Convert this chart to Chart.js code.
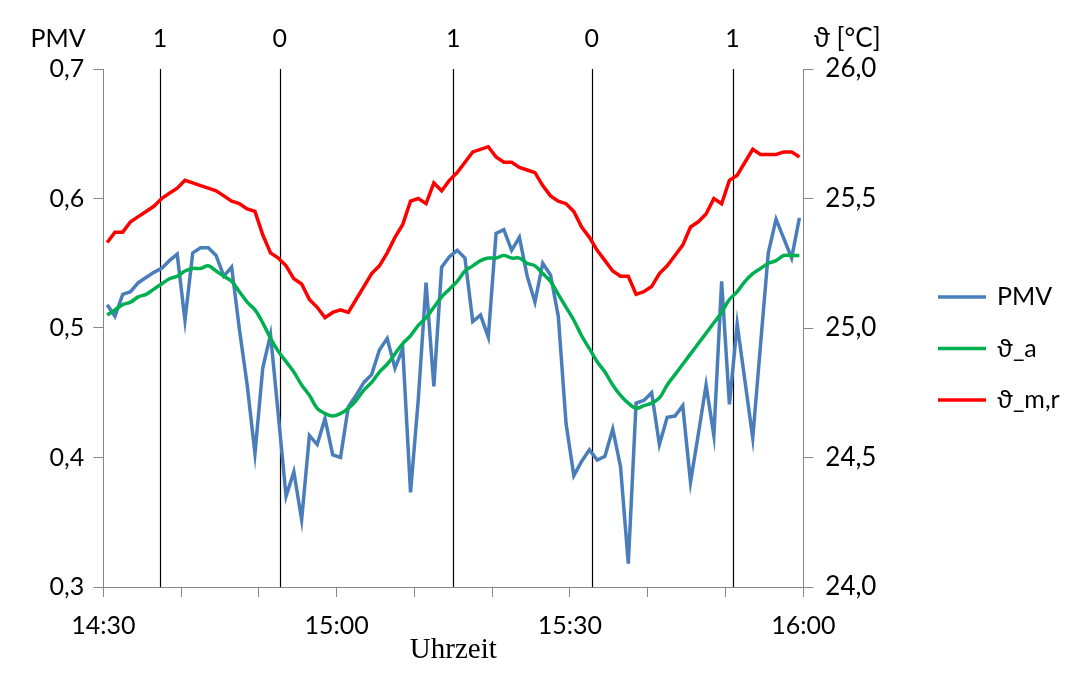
<!DOCTYPE html>
<html>
<head>
<meta charset="utf-8">
<title>PMV und Temperaturen</title>
<script src="https://cdn.jsdelivr.net/npm/chart.js@4"></script>
<style>
    html, body { margin: 0; padding: 0; background: #ffffff; }
    #wrap { width: 1072px; height: 685px; }
</style>
</head>
<body>
<div id="wrap"><canvas id="pmvChart" width="1072" height="685"></canvas></div>
<script>
// one sample per minute, 14:30 - 16:00
const pmv = [
    0.518, 0.509, 0.526, 0.528, 0.535, 0.539, 0.543, 0.546, 0.552, 0.557,
    0.506, 0.558, 0.562, 0.562, 0.556, 0.540, 0.547, 0.499, 0.456, 0.403,
    0.469, 0.495, 0.433, 0.370, 0.389, 0.352, 0.417, 0.410, 0.430, 0.402,
    0.400, 0.439, 0.448, 0.458, 0.464, 0.483, 0.492, 0.469, 0.484, 0.373,
    0.445, 0.535, 0.455, 0.547, 0.555, 0.560, 0.554, 0.505, 0.510, 0.493,
    0.573, 0.576, 0.560, 0.570, 0.540, 0.520, 0.550, 0.541, 0.509, 0.426,
    0.386, 0.397, 0.406, 0.398, 0.401, 0.422, 0.393, 0.318, 0.442, 0.444,
    0.450, 0.410, 0.431, 0.432, 0.440, 0.381, 0.418, 0.456, 0.417, 0.536,
    0.441, 0.503, 0.459, 0.415, 0.487, 0.558, 0.584, 0.569, 0.554, 0.585
];

const tempAir = [
    25.05, 25.07, 25.09, 25.10, 25.12, 25.13, 25.15, 25.17, 25.19, 25.20,
    25.22, 25.23, 25.23, 25.24, 25.22, 25.20, 25.18, 25.14, 25.10, 25.07,
    25.02, 24.96, 24.91, 24.87, 24.83, 24.78, 24.74, 24.69, 24.67, 24.66,
    24.67, 24.69, 24.72, 24.76, 24.79, 24.83, 24.86, 24.90, 24.94, 24.97,
    25.01, 25.04, 25.08, 25.12, 25.15, 25.18, 25.22, 25.24, 25.26, 25.27,
    25.27, 25.28, 25.27, 25.27, 25.25, 25.24, 25.21, 25.18, 25.13, 25.08,
    25.03, 24.97, 24.92, 24.87, 24.83, 24.78, 24.74, 24.71, 24.69, 24.70,
    24.71, 24.73, 24.78, 24.82, 24.86, 24.90, 24.94, 24.98, 25.02, 25.06,
    25.11, 25.14, 25.18, 25.21, 25.23, 25.25, 25.26, 25.28, 25.28, 25.28
];

const tempRad = [
    25.33, 25.37, 25.37, 25.41, 25.43, 25.45, 25.47, 25.50, 25.52, 25.54,
    25.57, 25.56, 25.55, 25.54, 25.53, 25.51, 25.49, 25.48, 25.46, 25.45,
    25.36, 25.29, 25.27, 25.24, 25.19, 25.17, 25.11, 25.08, 25.04, 25.06,
    25.07, 25.06, 25.11, 25.16, 25.21, 25.24, 25.29, 25.35, 25.40, 25.49,
    25.50, 25.48, 25.56, 25.53, 25.57, 25.60, 25.64, 25.68, 25.69, 25.70,
    25.66, 25.64, 25.64, 25.62, 25.61, 25.60, 25.55, 25.51, 25.49, 25.48,
    25.45, 25.39, 25.35, 25.30, 25.26, 25.22, 25.20, 25.20, 25.13, 25.14,
    25.16, 25.21, 25.24, 25.28, 25.32, 25.39, 25.41, 25.44, 25.50, 25.48,
    25.57, 25.59, 25.64, 25.69, 25.67, 25.67, 25.67, 25.68, 25.68, 25.66
];

// switching events (minutes after 14:30) and state
const switchMinutes = [7.3, 22.7, 45.0, 62.8, 80.9];
const switchStates = ['1', '0', '1', '0', '1'];

const timeTicks = [0, 30, 60, 90];
const timeLabels = ['14:30', '15:00', '15:30', '16:00'];

const seriesNames = ['PMV', 'ϑ_a', 'ϑ_m,r'];
const seriesColors = ['#4a7ebb', '#00b050', '#ff0000'];

const FONT = "Lato, 'DejaVu Sans', sans-serif";
const AXIS_GREY = '#868686';

// samples sit in the middle of each minute
const toPoints = (values) => values.map((v, i) => ({ x: i + 0.5, y: v }));
const comma = (v, digits) => v.toFixed(digits).replace('.', ',');

const overlay = {
    id: 'overlay',
    beforeDatasetsDraw(chart) {
        const { ctx, chartArea, scales } = chart;
        ctx.save();
        ctx.strokeStyle = '#000000';
        ctx.lineWidth = 1.2;
        switchMinutes.forEach((m) => {
            const x = Math.round(scales.x.getPixelForValue(m)) + 0.5;
            ctx.beginPath();
            ctx.moveTo(x, chartArea.top);
            ctx.lineTo(x, chartArea.bottom);
            ctx.stroke();
        });
        ctx.restore();
    },
    afterDraw(chart) {
        const { ctx, scales } = chart;
        ctx.save();
        ctx.fillStyle = '#000000';
        ctx.font = '25px ' + FONT;
        ctx.textBaseline = 'middle';
        ctx.textAlign = 'center';
        switchMinutes.forEach((m, i) => {
            ctx.fillText(switchStates[i], scales.x.getPixelForValue(m), 39);
        });
        ctx.fillText('PMV', 58, 39);
        ctx.font = '26px ' + FONT;
        ctx.fillText('ϑ [°C]', 847, 39);

        // legend
        ctx.font = '25px ' + FONT;
        ctx.textAlign = 'left';
        chart.data.datasets.forEach((ds, i) => {
            const y = 297 + i * 51.5;
            ctx.strokeStyle = ds.borderColor;
            ctx.lineWidth = ds.borderWidth;
            ctx.beginPath();
            ctx.moveTo(938, y);
            ctx.lineTo(986, y);
            ctx.stroke();
            ctx.fillText(ds.label, 997, y);
        });
        ctx.restore();
    }
};

new Chart(document.getElementById('pmvChart'), {
    type: 'line',
    data: {
        datasets: [{
            label: seriesNames[0],
            data: toPoints(pmv),
            yAxisID: 'y',
            borderColor: seriesColors[0],
            borderWidth: 3.5,
            pointRadius: 0,
            tension: 0,
            order: 3
        }, {
            label: seriesNames[1],
            data: toPoints(tempAir),
            yAxisID: 'y1',
            borderColor: seriesColors[1],
            borderWidth: 3.5,
            pointRadius: 0,
            tension: 0.35,
            order: 2
        }, {
            label: seriesNames[2],
            data: toPoints(tempRad),
            yAxisID: 'y1',
            borderColor: seriesColors[2],
            borderWidth: 3.5,
            pointRadius: 0,
            tension: 0,
            order: 1
        }]
    },
    options: {
        responsive: false,
        animation: false,
        devicePixelRatio: 1,
        layout: {
            padding: { top: 69, right: 178.7, bottom: 0, left: 0 }
        },
        plugins: {
            legend: { display: false },
            tooltip: { enabled: false }
        },
        scales: {
            x: {
                type: 'linear',
                min: 0,
                max: 90,
                afterFit: (scale) => { scale.height = 98; },
                afterBuildTicks: (scale) => {
                    scale.ticks = [0, 10, 20, 30, 40, 50, 60, 70, 80, 90].map(v => ({ value: v }));
                },
                ticks: {
                    autoSkip: false,
                    maxRotation: 0,
                    padding: 14,
                    color: '#000000',
                    font: { family: FONT, size: 25 },
                    callback: (v) => {
                        const k = timeTicks.indexOf(v);
                        return k >= 0 ? timeLabels[k] : '';
                    }
                },
                grid: {
                    drawOnChartArea: false,
                    color: AXIS_GREY,
                    tickLength: 10
                },
                border: { color: AXIS_GREY, width: 1 },
                title: {
                    display: true,
                    text: 'Uhrzeit',
                    color: '#000000',
                    font: { family: "'Liberation Serif', 'DejaVu Serif', serif", size: 29 },
                    padding: { top: 0, bottom: 17 }
                }
            },
            y: {
                position: 'left',
                min: 0.3,
                max: 0.7,
                afterFit: (scale) => { scale.width = 103.3; },
                ticks: {
                    stepSize: 0.1,
                    padding: 9,
                    color: '#000000',
                    font: { family: FONT, size: 25 },
                    callback: (v) => comma(v, 1)
                },
                grid: {
                    drawOnChartArea: false,
                    color: AXIS_GREY,
                    tickLength: 10
                },
                border: { color: AXIS_GREY, width: 1 }
            },
            y1: {
                position: 'right',
                min: 24,
                max: 26,
                afterFit: (scale) => { scale.width = 90; },
                ticks: {
                    stepSize: 0.5,
                    padding: 12,
                    color: '#000000',
                    font: { family: FONT, size: 26 },
                    callback: (v) => comma(v, 1)
                },
                grid: {
                    drawOnChartArea: false,
                    color: AXIS_GREY,
                    tickLength: 10
                },
                border: { color: AXIS_GREY, width: 1 }
            }
        }
    },
    plugins: [overlay]
});
</script>
</body>
</html>
